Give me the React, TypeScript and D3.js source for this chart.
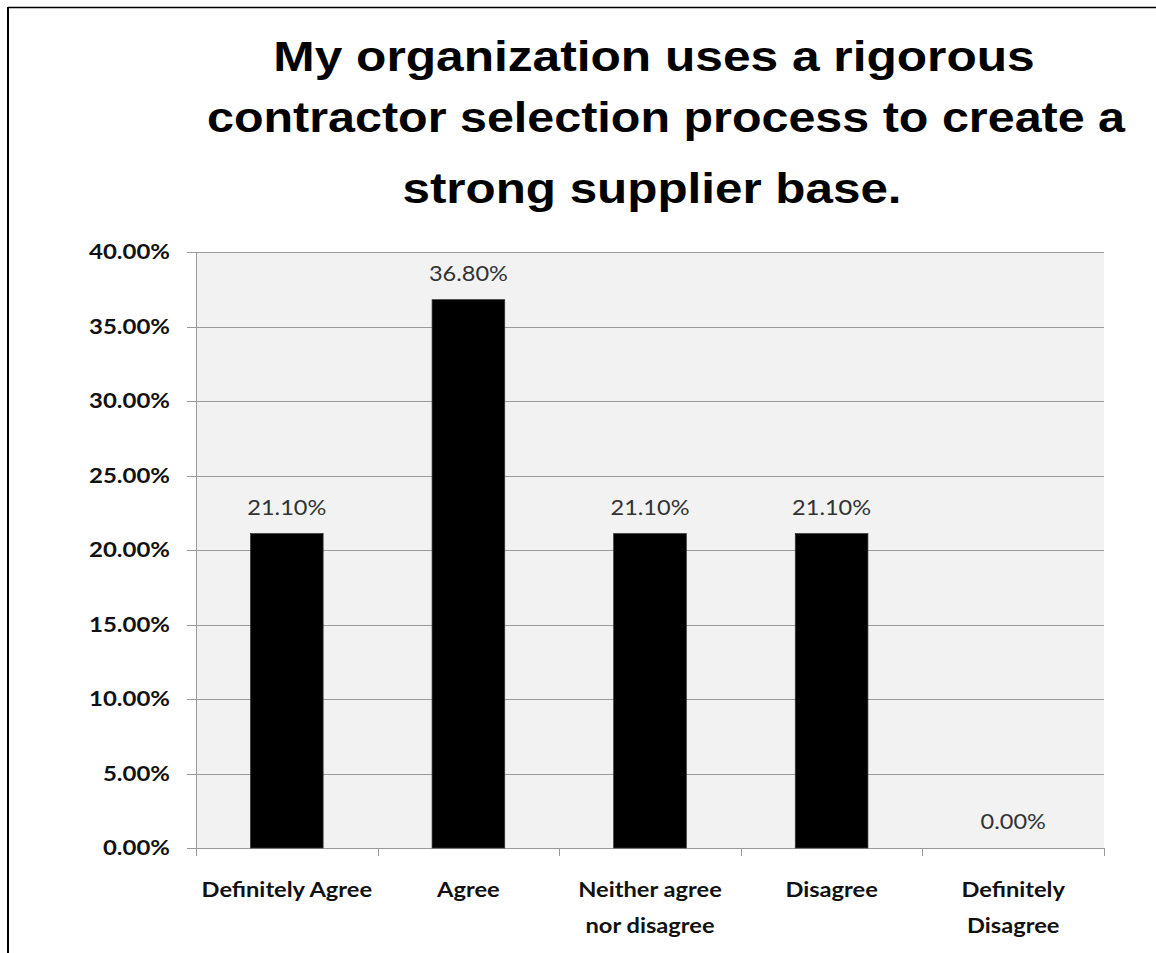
import React from "react";
import * as d3 from "d3";

const titleLines = [
  "My organization uses a rigorous",
  "contractor selection process to create a",
  "strong supplier base.",
];
const categories = [
  ["Definitely Agree"],
  ["Agree"],
  ["Neither agree", "nor disagree"],
  ["Disagree"],
  ["Definitely", "Disagree"],
];
const values = [21.1, 36.8, 21.1, 21.1, 0.0];
const yTicks = [0, 5, 10, 15, 20, 25, 30, 35, 40];

const W = 1156;
const H = 953;
const plot = { left: 196, right: 1104, top: 252, bottom: 848 };
const titleStyle = [
  { x: 654, y: 71, sx: 1.155 },
  { x: 666, y: 132, sx: 1.127 },
  { x: 652, y: 203, sx: 1.148 },
];

function T(props: {
  x: number;
  y: number;
  sx: number;
  anchor: "start" | "middle" | "end";
  size: number;
  weight?: string | number;
  family: string;
  fill?: string;
  children: React.ReactNode;
}) {
  return (
    <text
      transform={`translate(${props.x},${props.y}) scale(${props.sx},1)`}
      textAnchor={props.anchor}
      fontSize={props.size}
      fontWeight={props.weight ?? "normal"}
      fontFamily={props.family}
      fill={props.fill ?? "#000"}
    >
      {props.children}
    </text>
  );
}

export default function App() {
  const x = d3
    .scaleBand<number>()
    .domain(d3.range(categories.length))
    .range([plot.left, plot.right])
    .paddingInner(0.6)
    .paddingOuter(0.3);
  const y = d3.scaleLinear().domain([0, 40]).range([plot.bottom, plot.top]);
  const step = (plot.right - plot.left) / categories.length;
  const boundaries = d3.range(categories.length + 1).map((i) => plot.left + i * step);
  const fmt = (v: number) => v.toFixed(2) + "%";
  const calib = "Lato, 'Open Sans', sans-serif";

  return (
    <svg
      width={W}
      height={H}
      style={{ position: "absolute", left: 0, top: 0, background: "#fff" }}
    >
      {/* frame */}
      <line x1={8} x2={W} y1={7.5} y2={7.5} stroke="#000" strokeWidth={1.5} />
      <line x1={8} x2={8} y1={7} y2={H} stroke="#000" strokeWidth={2} />

      {/* title */}
      {titleLines.map((t, i) => (
        <T
          key={i}
          x={titleStyle[i].x}
          y={titleStyle[i].y}
          sx={titleStyle[i].sx}
          anchor="middle"
          size={43}
          weight="bold"
          family="'Liberation Sans', Arial, sans-serif"
        >
          {t}
        </T>
      ))}

      {/* plot background */}
      <rect
        x={plot.left}
        y={plot.top}
        width={plot.right - plot.left}
        height={plot.bottom - plot.top}
        fill="#f2f2f2"
      />

      {/* gridlines + y ticks */}
      {yTicks.map((t) => (
        <g key={t}>
          <line
            x1={187}
            x2={plot.right}
            y1={Math.round(y(t)) + 0.5}
            y2={Math.round(y(t)) + 0.5}
            stroke="#9a9a9a"
            strokeWidth={1}
          />
          <T
            x={170}
            y={y(t) + 7.3}
            sx={1.2}
            anchor="end"
            size={20}
            weight="bold"
            family={calib}
            fill="#111"
          >
            {fmt(t)}
          </T>
        </g>
      ))}

      {/* y axis */}
      <line
        x1={plot.left + 0.5}
        x2={plot.left + 0.5}
        y1={plot.top}
        y2={plot.bottom}
        stroke="#9a9a9a"
      />

      {/* x axis ticks */}
      {boundaries.map((b, i) => (
        <line
          key={i}
          x1={Math.round(b) + 0.5}
          x2={Math.round(b) + 0.5}
          y1={plot.bottom}
          y2={plot.bottom + 8}
          stroke="#9a9a9a"
        />
      ))}

      {/* bars */}
      {values.map((v, i) => (
        <rect
          key={i}
          x={x(i)!}
          y={y(v)}
          width={x.bandwidth()}
          height={plot.bottom - y(v)}
          fill="#000"
          stroke="#333"
          strokeWidth={0.75}
        />
      ))}

      {/* data labels */}
      {values.map((v, i) => (
        <T
          key={i}
          x={x(i)! + x.bandwidth() / 2}
          y={y(v) - 19}
          sx={1.07}
          anchor="middle"
          size={22}
          family={calib}
          fill="#333"
        >
          {fmt(v)}
        </T>
      ))}

      {/* category labels */}
      {categories.map((lines, i) =>
        lines.map((ln, j) => (
          <T
            key={i + "-" + j}
            x={x(i)! + x.bandwidth() / 2}
            y={897 + j * 36}
            sx={1.1}
            anchor="middle"
            size={21.5}
            weight="bold"
            family={calib}
            fill="#111"
          >
            {ln}
          </T>
        ))
      )}
    </svg>
  );
}
